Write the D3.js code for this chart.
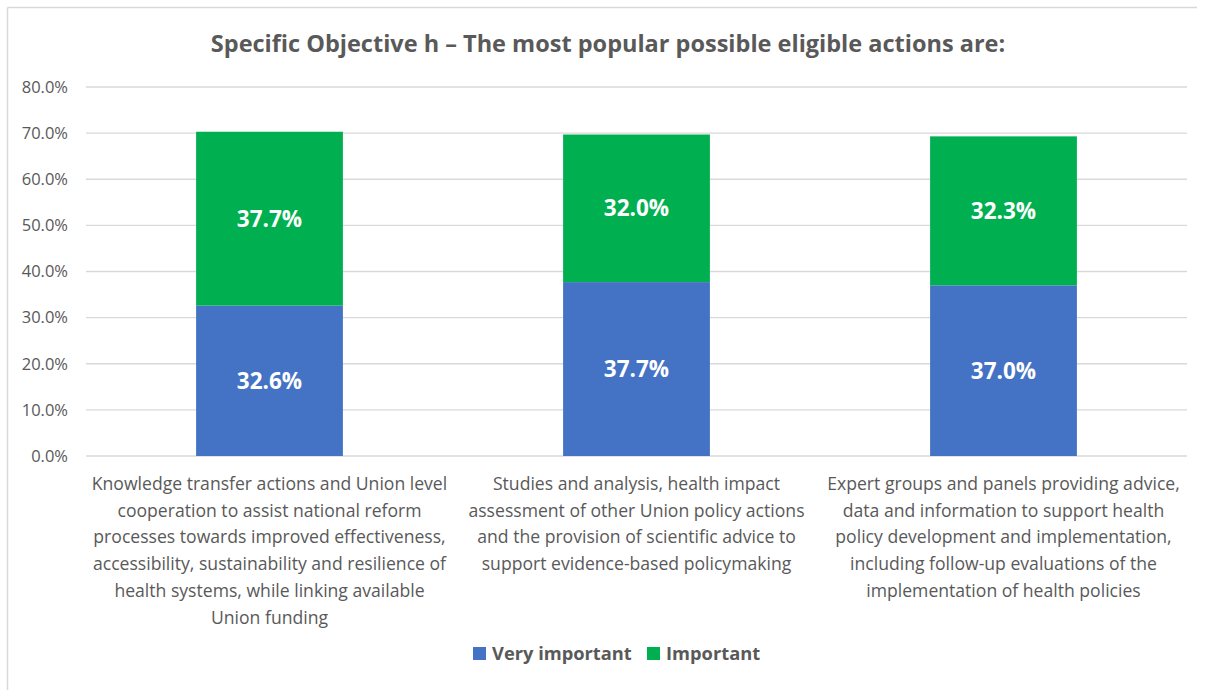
<!DOCTYPE html>
<html>
<head>
<meta charset="utf-8">
<script src="https://cdn.jsdelivr.net/npm/d3@7"></script>
<style>
  body { margin: 0; background: #fff; }
  text { font-family: 'Open Sans', 'DejaVu Sans', sans-serif; }
</style>
</head>
<body>
<div id="chart"></div>
<script>
// data
var categories = ['Knowledge transfer', 'Studies and analysis', 'Expert groups']
var categoryLabels = [
  ['Knowledge transfer actions and Union level', 'cooperation to assist national reform', 'processes towards improved effectiveness,', 'accessibility, sustainability and resilience of', 'health systems, while linking available', 'Union funding'],
  ['Studies and analysis, health impact', 'assessment of other Union policy actions', 'and the provision of scientific advice to', 'support evidence-based policymaking'],
  ['Expert groups and panels providing advice,', 'data and information to support health', 'policy development and implementation,', 'including follow-up evaluations of the', 'implementation of health policies']
]
var veryImportant = [32.6, 37.7, 37.0]
var important = [37.7, 32.0, 32.3]
var seriesNames = ['Very important', 'Important']
var yTicks = [0, 10, 20, 30, 40, 50, 60, 70, 80]

var W = 1205
var H = 690
var margin = { top: 87, left: 86, right: 18, bottom: 234 }
var width = W - margin.left - margin.right
var height = H - margin.top - margin.bottom

var colors = ['#4472C4', '#00B050']
var gray = '#595959'

var root = d3.select('#chart').append('svg').attr('width', W).attr('height', H)

// chart frame (top + left visible)
root.append('line').attr('x1', 7.5).attr('x2', 1197).attr('y1', 7.5).attr('y2', 7.5)
  .attr('stroke', '#d9d9d9').attr('stroke-width', 1.5)
root.append('line').attr('x1', 7.5).attr('x2', 7.5).attr('y1', 7.5).attr('y2', H)
  .attr('stroke', '#d9d9d9').attr('stroke-width', 1.5)

root.append('text')
  .text('Specific Objective h \u2013 The most popular possible eligible actions are:')
  .attr('x', 608).attr('y', 52)
  .attr('text-anchor', 'middle')
  .attr('font-size', 23.5).attr('font-weight', 'bold')
  .attr('fill', gray)

var svg = root.append('g').attr('transform', 'translate(' + margin.left + ',' + margin.top + ')')

var xScale = d3.scaleBand().domain(categories).range([0, width]).paddingInner(0.6).paddingOuter(0.3)
var yScale = d3.scaleLinear().domain([0, 80]).range([height, 0])

// gridlines
svg.selectAll('.grid')
  .data(yTicks)
  .enter()
  .append('line')
  .attr('class', 'grid')
  .attr('x1', 0).attr('x2', width)
  .attr('y1', d => yScale(d)).attr('y2', d => yScale(d))
  .attr('stroke', '#d9d9d9').attr('stroke-width', 1.3)

var yAxis = d3.axisLeft(yScale).tickValues(yTicks).tickFormat(d => d.toFixed(1) + '%').tickSize(0).tickPadding(18)
var yG = svg.append('g').attr('class', 'axis y-axis').call(yAxis)
yG.select('.domain').remove()
yG.selectAll('text').attr('font-size', 16.5).attr('fill', gray).style('font-family', "'Open Sans', sans-serif")

var stacked = categories.map((c, i) => {
  return [
    { key: c, s: 0, y0: 0, y1: veryImportant[i], v: veryImportant[i] },
    { key: c, s: 1, y0: veryImportant[i], y1: veryImportant[i] + important[i], v: important[i] }
  ]
}).flat()

svg.selectAll('.bar')
  .data(stacked)
  .enter()
  .append('rect')
  .attr('class', 'bar')
  .attr('x', d => xScale(d.key))
  .attr('width', xScale.bandwidth())
  .attr('y', d => yScale(d.y1))
  .attr('height', d => yScale(d.y0) - yScale(d.y1))
  .attr('fill', d => colors[d.s])

svg.selectAll('.bar-label')
  .data(stacked)
  .enter()
  .append('text')
  .attr('class', 'bar-label')
  .text(d => d.v.toFixed(1) + '%')
  .attr('x', d => xScale(d.key) + xScale.bandwidth() / 2)
  .attr('y', d => yScale((d.y0 + d.y1) / 2))
  .attr('dy', 8)
  .attr('text-anchor', 'middle')
  .attr('font-size', 22.5).attr('font-weight', 'bold')
  .attr('fill', '#fff')

// category labels
var cat = svg.selectAll('.cat-label')
  .data(categories)
  .enter()
  .append('text')
  .attr('class', 'cat-label')
  .attr('text-anchor', 'middle')
  .attr('font-size', 17.6)
  .attr('fill', gray)

cat.selectAll('tspan')
  .data((d, i) => categoryLabels[i].map(l => ({ key: d, line: l })))
  .enter()
  .append('tspan')
  .attr('x', d => xScale(d.key) + xScale.bandwidth() / 2)
  .attr('y', (d, j) => height + 34 + j * 26.7)
  .text(d => d.line)

// legend
var legend = root.append('g').attr('transform', 'translate(473,647)')
var lx = [0, 174]
seriesNames.forEach((name, i) => {
  legend.append('rect').attr('x', lx[i]).attr('y', 0).attr('width', 13).attr('height', 13).attr('fill', colors[i])
  legend.append('text').text(name).attr('x', lx[i] + 19).attr('y', 12.5)
    .attr('font-size', 18.3).attr('font-weight', 'bold').attr('fill', gray)
})
</script>
</body>
</html>
